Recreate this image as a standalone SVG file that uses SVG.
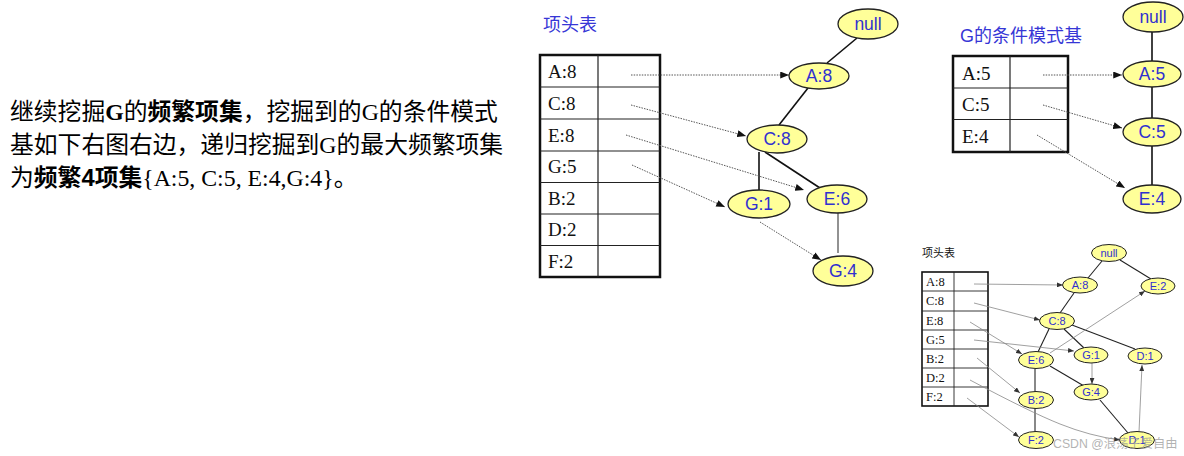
<svg xmlns="http://www.w3.org/2000/svg" width="1184" height="456" viewBox="0 0 1184 456">
<defs>
<style>
.cjk{font-family:"Liberation Sans","Noto Sans CJK SC",sans-serif;fill:#000}
.sf{font-family:"Liberation Serif","Noto Sans CJK SC",serif}
.b{font-weight:bold}
.ttl{font-family:"Liberation Sans","Noto Sans CJK SC",sans-serif;font-size:18px;fill:#3636d6}
.tt{font-family:"Liberation Serif",serif;font-size:19px;fill:#111}
.ts{font-family:"Liberation Serif",serif;font-size:12.5px;fill:#111}
.nd{fill:#ffff99;stroke:#222;stroke-width:1.3}
.ndS{fill:#ffff99;stroke:#222;stroke-width:1}
.nl{font-family:"Liberation Sans",sans-serif;font-size:17.5px;fill:#3030d0;text-anchor:middle}
.nlS{font-family:"Liberation Sans",sans-serif;font-size:11px;fill:#3030d0;text-anchor:middle}
.tout{fill:#fff;stroke:#111;stroke-width:2.5}
.tin{stroke:#222;stroke-width:1.2;fill:none}
.toutS{fill:#fff;stroke:#111;stroke-width:1.6}
.tinS{stroke:#222;stroke-width:0.9;fill:none}
.e{stroke:#111;stroke-width:1.6;fill:none}
.eg{stroke:#777;stroke-width:1.6;fill:none}
.dl{stroke:#555;stroke-width:1;stroke-dasharray:1.5 1.2;fill:none;marker-end:url(#ah)}
.sl{stroke:#888;stroke-width:0.8;fill:none;marker-end:url(#ahs)}
.es{stroke:#222;stroke-width:1.1;fill:none}
.esg{stroke:#888;stroke-width:2;fill:none}
</style>
<marker id="ah" viewBox="0 0 10 8" refX="10" refY="4" markerWidth="9" markerHeight="7" markerUnits="userSpaceOnUse" orient="auto"><path d="M0,0 L10,4 L0,8 z" fill="#111"/></marker>
<marker id="ahs" viewBox="0 0 10 8" refX="10" refY="4" markerWidth="6" markerHeight="5" markerUnits="userSpaceOnUse" orient="auto"><path d="M0,0 L10,4 L0,8 z" fill="#333"/></marker>
</defs>
<rect width="1184" height="456" fill="#fff"/>

<g id="desc" class="cjk" font-size="23.8">
<text x="10" y="120">继续挖掘<tspan class="sf b">G</tspan>的<tspan class="b">频繁项集</tspan>，挖掘到的<tspan class="sf">G</tspan>的条件模式</text>
<text x="10" y="153">基如下右图右边，递归挖掘到<tspan class="sf">G</tspan>的最大频繁项集</text>
<text x="10" y="186">为<tspan class="b">频繁4项集</tspan><tspan class="sf">{A:5, C:5, E:4,G:4}</tspan>。</text>
</g>

<!-- Diagram 1 -->
<g id="title1"><text class="ttl" x="543" y="31">项头表</text></g>
<g id="table1">
<rect class="tout" x="540" y="55" width="120" height="222"/>
<path class="tin" d="M598,55V277 M540,87H660 M540,119H660 M540,151H660 M540,182.5H660 M540,214H660 M540,245.5H660"/>
<text class="tt" x="548" y="78">A:8</text>
<text class="tt" x="548" y="110">C:8</text>
<text class="tt" x="548" y="142">E:8</text>
<text class="tt" x="548" y="173">G:5</text>
<text class="tt" x="548" y="205">B:2</text>
<text class="tt" x="548" y="236">D:2</text>
<text class="tt" x="548" y="268">F:2</text>
</g>
<g id="edges1">
<line class="e" x1="857" y1="38" x2="827" y2="63"/>
<line class="e" x1="808" y1="88" x2="779" y2="125"/>
<line class="e" x1="759" y1="152" x2="759" y2="190"/>
<line class="e" x1="765" y1="152" x2="820" y2="188" stroke-width="2"/>
<line class="eg" x1="838" y1="213" x2="838" y2="253"/>
<line class="dl" x1="631" y1="75" x2="789" y2="75"/>
<line class="dl" x1="631" y1="105" x2="746" y2="136"/>
<line class="dl" x1="626" y1="135" x2="804" y2="190"/>
<line class="dl" x1="632" y1="165" x2="725" y2="207"/>
<line class="dl" x1="760" y1="222" x2="821" y2="260"/>
</g>
<g id="null1"><ellipse class="nd" cx="868" cy="24" rx="30" ry="15"/><text class="nl" x="868" y="30">null</text></g>
<g id="A8"><ellipse class="nd" cx="819" cy="76" rx="30" ry="13"/><text class="nl" x="819" y="82">A:8</text></g>
<g id="C8"><ellipse class="nd" cx="777" cy="139" rx="30" ry="14"/><text class="nl" x="777" y="145">C:8</text></g>
<g id="G1"><ellipse class="nd" cx="759" cy="204" rx="31" ry="14"/><text class="nl" x="759" y="210">G:1</text></g>
<g id="E6"><ellipse class="nd" cx="837" cy="199" rx="30" ry="14"/><text class="nl" x="837" y="205">E:6</text></g>
<g id="G4"><ellipse class="nd" cx="843" cy="271" rx="30" ry="15"/><text class="nl" x="843" y="277">G:4</text></g>

<!-- Diagram 2 -->
<g id="title2"><text class="ttl" x="960" y="42">G的条件模式基</text></g>
<g id="table2">
<rect class="tout" x="953" y="56" width="115" height="96"/>
<path class="tin" d="M1010,56V152 M953,88H1068 M953,119.5H1068"/>
<text class="tt" x="962" y="80">A:5</text>
<text class="tt" x="962" y="111">C:5</text>
<text class="tt" x="962" y="143">E:4</text>
</g>
<g id="edges2">
<line class="e" x1="1152" y1="32" x2="1152" y2="61"/>
<line class="e" x1="1152" y1="87" x2="1152" y2="118"/>
<line class="e" x1="1152" y1="146" x2="1152" y2="185"/>
<line class="dl" x1="1043" y1="75" x2="1122" y2="75"/>
<line class="dl" x1="1043" y1="105" x2="1122" y2="128"/>
<line class="dl" x1="1037" y1="135" x2="1125" y2="188"/>
</g>
<g id="null2"><ellipse class="nd" cx="1153" cy="17" rx="30" ry="15"/><text class="nl" x="1153" y="23">null</text></g>
<g id="A5"><ellipse class="nd" cx="1152" cy="74" rx="29" ry="13"/><text class="nl" x="1152" y="80">A:5</text></g>
<g id="C5"><ellipse class="nd" cx="1152" cy="132" rx="29" ry="14"/><text class="nl" x="1152" y="138">C:5</text></g>
<g id="E4"><ellipse class="nd" cx="1152" cy="199" rx="29" ry="14"/><text class="nl" x="1152" y="205">E:4</text></g>

<!-- Diagram 3 -->
<g id="title3"><text x="922" y="257" font-family="Liberation Sans, Noto Sans CJK SC, sans-serif" font-size="11" fill="#111">项头表</text></g>
<g id="table3">
<rect class="toutS" x="922" y="272" width="66" height="134"/>
<path class="tinS" d="M954,272V406 M922,291H988 M922,311H988 M922,330H988 M922,349H988 M922,368H988 M922,387H988"/>
<text class="ts" x="926" y="286">A:8</text>
<text class="ts" x="926" y="305">C:8</text>
<text class="ts" x="926" y="325">E:8</text>
<text class="ts" x="926" y="344">G:5</text>
<text class="ts" x="926" y="363">B:2</text>
<text class="ts" x="926" y="382">D:2</text>
<text class="ts" x="926" y="401">F:2</text>
</g>
<g id="edges3">
<line class="es" x1="1102" y1="261" x2="1088" y2="278"/>
<line class="es" x1="1120" y1="260" x2="1151" y2="279"/>
<line class="es" x1="1074" y1="293" x2="1060" y2="313"/>
<line class="es" x1="1049" y1="329" x2="1038" y2="352"/>
<line class="es" x1="1064" y1="329" x2="1084" y2="348"/>
<line class="es" x1="1072" y1="325" x2="1135" y2="349"/>
<line class="es" x1="1050" y1="366" x2="1084" y2="386"/>
<line class="es" x1="1100" y1="400" x2="1128" y2="433"/>
<line class="esg" x1="1035" y1="369" x2="1035" y2="392"/>
<line class="esg" x1="1035" y1="408" x2="1035" y2="432"/>
<line class="sl" x1="1092" y1="363" x2="1092" y2="384"/>
<line class="sl" x1="1139" y1="432" x2="1142" y2="365"/>
<line class="sl" x1="974" y1="284" x2="1063" y2="285"/>
<line class="sl" x1="974" y1="303" x2="1040" y2="320"/>
<line class="sl" x1="970" y1="322" x2="1022" y2="354"/>
<line class="sl" x1="974" y1="340" x2="1074" y2="351"/>
<line class="sl" x1="1050" y1="353" x2="1145" y2="291"/>
<line class="sl" x1="977" y1="358" x2="1020" y2="393"/>
<path class="sl" d="M970,380 Q1030,412 1060,424 Q1090,436 1120,440"/>
<line class="sl" x1="967" y1="398" x2="1019" y2="437"/>
</g>
<g id="nullS"><ellipse class="ndS" cx="1109" cy="253" rx="17.5" ry="8.5"/><text class="nlS" x="1109" y="257">null</text></g>
<g id="A8s"><ellipse class="ndS" cx="1080" cy="285" rx="17.5" ry="8"/><text class="nlS" x="1080" y="289">A:8</text></g>
<g id="E2s"><ellipse class="ndS" cx="1158" cy="286" rx="17" ry="8"/><text class="nlS" x="1158" y="290">E:2</text></g>
<g id="C8s"><ellipse class="ndS" cx="1057" cy="321" rx="17.5" ry="8.5"/><text class="nlS" x="1057" y="325">C:8</text></g>
<g id="E6s"><ellipse class="ndS" cx="1036" cy="360" rx="17.5" ry="8.5"/><text class="nlS" x="1036" y="364">E:6</text></g>
<g id="G1s"><ellipse class="ndS" cx="1091" cy="355" rx="17" ry="8"/><text class="nlS" x="1091" y="359">G:1</text></g>
<g id="D1s"><ellipse class="ndS" cx="1145" cy="356" rx="17" ry="8"/><text class="nlS" x="1145" y="360">D:1</text></g>
<g id="G4s"><ellipse class="ndS" cx="1091" cy="392" rx="17" ry="8"/><text class="nlS" x="1091" y="396">G:4</text></g>
<g id="B2s"><ellipse class="ndS" cx="1036" cy="400" rx="17.5" ry="8.5"/><text class="nlS" x="1036" y="404">B:2</text></g>
<g id="F2s"><ellipse class="ndS" cx="1036" cy="440" rx="17.5" ry="8.5"/><text class="nlS" x="1036" y="444">F:2</text></g>
<g id="D1b"><ellipse class="ndS" cx="1137" cy="440" rx="17.5" ry="8.5"/><text class="nlS" x="1137" y="444">D:1</text></g>

<g id="watermark"><text x="1053" y="448" font-family="Liberation Sans, Noto Sans CJK SC, sans-serif" font-size="12.3" fill="#999" fill-opacity="0.75">CSDN @浪荡子爱自由</text></g>
</svg>
